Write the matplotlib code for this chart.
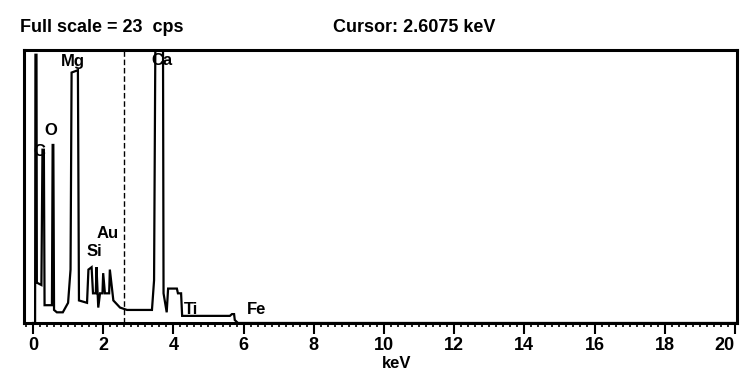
import matplotlib
matplotlib.use("Agg")
import matplotlib.pyplot as plt
from matplotlib.ticker import MultipleLocator

# Spectrum (energy keV, counts per second)
energy_kev = [0.00, 0.06, 0.07, 0.10, 0.11, 0.24, 0.27, 0.31, 0.33, 0.54, 0.56, 0.58, 0.60,
              0.68, 0.85, 1.00, 1.07, 1.10, 1.28, 1.31, 1.54, 1.58, 1.67, 1.71, 1.79, 1.81,
              1.86, 1.91, 1.98, 2.00, 2.05, 2.17, 2.19, 2.29, 2.48, 2.68, 3.39, 3.45, 3.48,
              3.50, 3.70, 3.72, 3.81, 3.85, 4.10, 4.13, 4.22, 4.25, 5.61, 5.67, 5.73, 5.75,
              5.84, 20.0]
counts_cps = [0.0, 0.0, 22.6, 22.6, 3.4, 3.2, 14.6, 14.6, 1.5, 1.5, 15.0, 15.0, 1.1,
              0.9, 0.9, 1.7, 4.5, 21.1, 21.3, 1.9, 1.7, 4.5, 4.7, 2.5, 2.5, 4.7,
              1.3, 2.5, 2.5, 4.2, 2.5, 2.5, 4.5, 1.9, 1.3, 1.1, 1.1, 3.6, 19.9,
              30.0, 30.0, 2.5, 0.9, 2.9, 2.9, 2.5, 2.5, 0.6, 0.6, 0.75, 0.75, 0.25,
              0.0, 0.0]

element_labels = ["C", "O", "Mg", "Ca", "Au", "Si", "Ti", "Fe"]
label_energy = [0.17, 0.52, 1.13, 3.68, 2.12, 1.75, 4.50, 6.38]
label_cps = [13.8, 15.6, 21.4, 21.5, 6.9, 5.4, 0.5, 0.5]

cursor_kev = 2.6075
full_scale_cps = 23
major_ticks = [0, 2, 4, 6, 8, 10, 12, 14, 16, 18, 20]
major_labels = ["0", "2", "4", "6", "8", "10", "12", "14", "16", "18", "20"]

plt.rcParams['font.family'] = ['Liberation Sans', 'DejaVu Sans']

fig = plt.figure(figsize=(7.40, 3.77), dpi=100)
ax = fig.add_axes([24/740, 54/377, 713/740, 273/377])

ax.plot(energy_kev, counts_cps, color="black", lw=1.6, solid_joinstyle="miter")
ax.axvline(cursor_kev, color="black", lw=1.0, ls=(0, (4, 2)))

for lab, e, c in zip(element_labels, label_energy, label_cps):
    ax.text(e, c, lab, fontsize=12, fontweight="bold", ha="center", va="bottom")

ax.set_xlim(-0.256, 20.06)
ax.set_ylim(0, full_scale_cps)
ax.set_xticks(major_ticks)
ax.set_xticklabels(major_labels, fontsize=13, fontweight="bold")
ax.get_xticklabels()[-1].set_horizontalalignment("right")
ax.xaxis.set_minor_locator(MultipleLocator(0.2))
ax.tick_params(axis="x", which="major", direction="out", length=8, width=1.5, pad=2)
ax.tick_params(axis="x", which="minor", direction="out", length=3, width=1.2)
ax.set_yticks([])
for s in ax.spines.values():
    s.set_linewidth(2.2)

ax.set_xlabel("keV", fontsize=12, fontweight="bold", labelpad=0)
ax.xaxis.set_label_coords((397-24)/713, -0.12)

fig.text(20/740, 1 - 28/377, "Full scale = 23  cps", fontsize=13, fontweight="bold",
         ha="left", va="center")
fig.text(333/740, 1 - 28/377, "Cursor: 2.6075 keV", fontsize=13, fontweight="bold",
         ha="left", va="center")

fig.savefig("out.png", dpi=100)
